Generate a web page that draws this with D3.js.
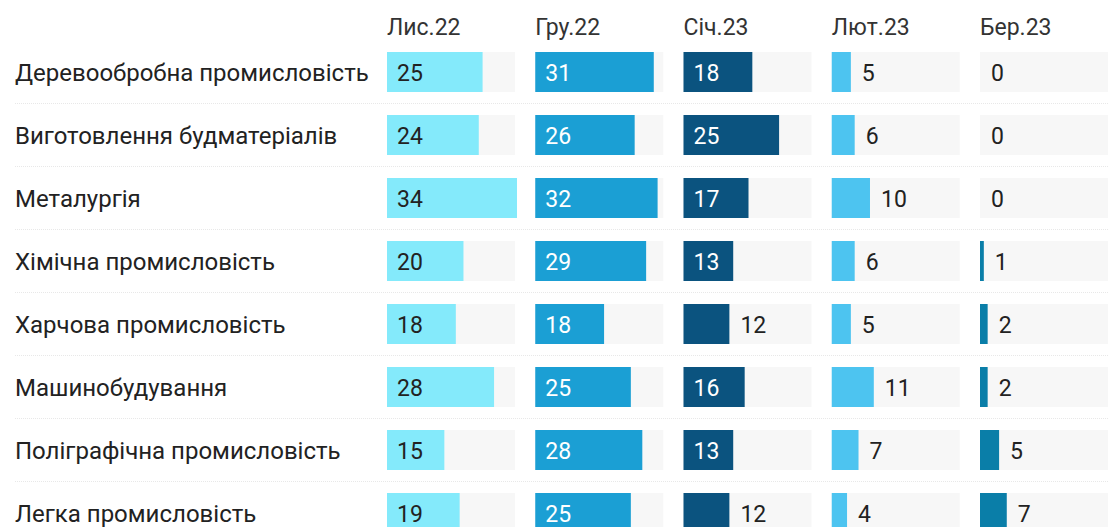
<!DOCTYPE html>
<html>
<head>
<meta charset="utf-8">
<script src="https://cdn.jsdelivr.net/npm/d3@7"></script>
<style>
  html, body { margin: 0; padding: 0; background: #fff; }
  svg { display: block; font-family: Roboto, "Noto Sans", sans-serif; }
</style>
</head>
<body>
<svg id="chart" width="1108" height="527"></svg>
<script>
const categories = [
  "Деревообробна промисловість",
  "Виготовлення будматеріалів",
  "Металургія",
  "Хімічна промисловість",
  "Харчова промисловість",
  "Машинобудування",
  "Поліграфічна промисловість",
  "Легка промисловість"
];
const months = ["Лис.22", "Гру.22", "Січ.23", "Лют.23", "Бер.23"];
const lys22 = [25, 24, 34, 20, 18, 28, 15, 19];
const hru22 = [31, 26, 32, 29, 18, 25, 28, 25];
const sich23 = [18, 25, 17, 13, 12, 16, 13, 12];
const lyut23 = [5, 6, 10, 6, 5, 11, 7, 4];
const ber23 = [0, 0, 0, 1, 2, 2, 5, 7];
const series = [lys22, hru22, sich23, lyut23, ber23];
const colors = ["#84eafb", "#1b9fd4", "#0b537f", "#4dc4f0", "#0a7ea8"];
const insideText = ["#222", "#fff", "#fff", "#222", "#fff"];

const svg = d3.select("#chart");
const x0 = d3.scaleBand().domain(months).range([387, 387 + 5 * 148.25]);
const y = d3.scaleBand().domain(categories).range([40, 40 + 8 * 63]);
const w = d3.scaleLinear().domain([0, 34]).range([0, 130]);
const barH = 40, barOff = 12, bgW = 128;
const fs = 23;

// separators
svg.append("g").selectAll("line").data(categories.slice(0, -1)).join("line")
  .attr("x1", 15).attr("x2", 1108)
  .attr("y1", d => y(d) + y.bandwidth() + 0.5)
  .attr("y2", d => y(d) + y.bandwidth() + 0.5)
  .attr("stroke", "#e8e8e8").attr("stroke-width", 1).attr("stroke-dasharray", "1,1");

// headers
svg.append("g").selectAll("text").data(months).join("text")
  .attr("x", d => x0(d)).attr("y", 35)
  .attr("font-size", fs).attr("fill", "#333").text(d => d);

// row labels
svg.append("g").selectAll("text").data(categories).join("text")
  .attr("x", 15).attr("y", d => y(d) + barOff + barH / 2 + 8.5)
  .attr("font-size", 24).attr("fill", "#222").text(d => d);

months.forEach((m, j) => {
  const g = svg.append("g");
  const data = categories.map((c, i) => ({ c, v: series[j][i] }));
  g.selectAll("rect.bg").data(data).join("rect").attr("class", "bg")
    .attr("x", x0(m)).attr("y", d => y(d.c) + barOff)
    .attr("width", bgW).attr("height", barH).attr("fill", "#f7f7f7");
  g.selectAll("rect.bar").data(data).join("rect").attr("class", "bar")
    .attr("x", x0(m)).attr("y", d => y(d.c) + barOff)
    .attr("width", d => w(d.v)).attr("height", barH).attr("fill", colors[j]);
  g.selectAll("text").data(data).join("text")
    .attr("x", d => w(d.v) > 47 ? x0(m) + 10 : x0(m) + w(d.v) + 11)
    .attr("y", d => y(d.c) + barOff + barH / 2 + 8.5)
    .attr("font-size", fs)
    .attr("fill", d => w(d.v) > 47 ? insideText[j] : "#222")
    .text(d => d.v);
});
</script>
</body>
</html>
